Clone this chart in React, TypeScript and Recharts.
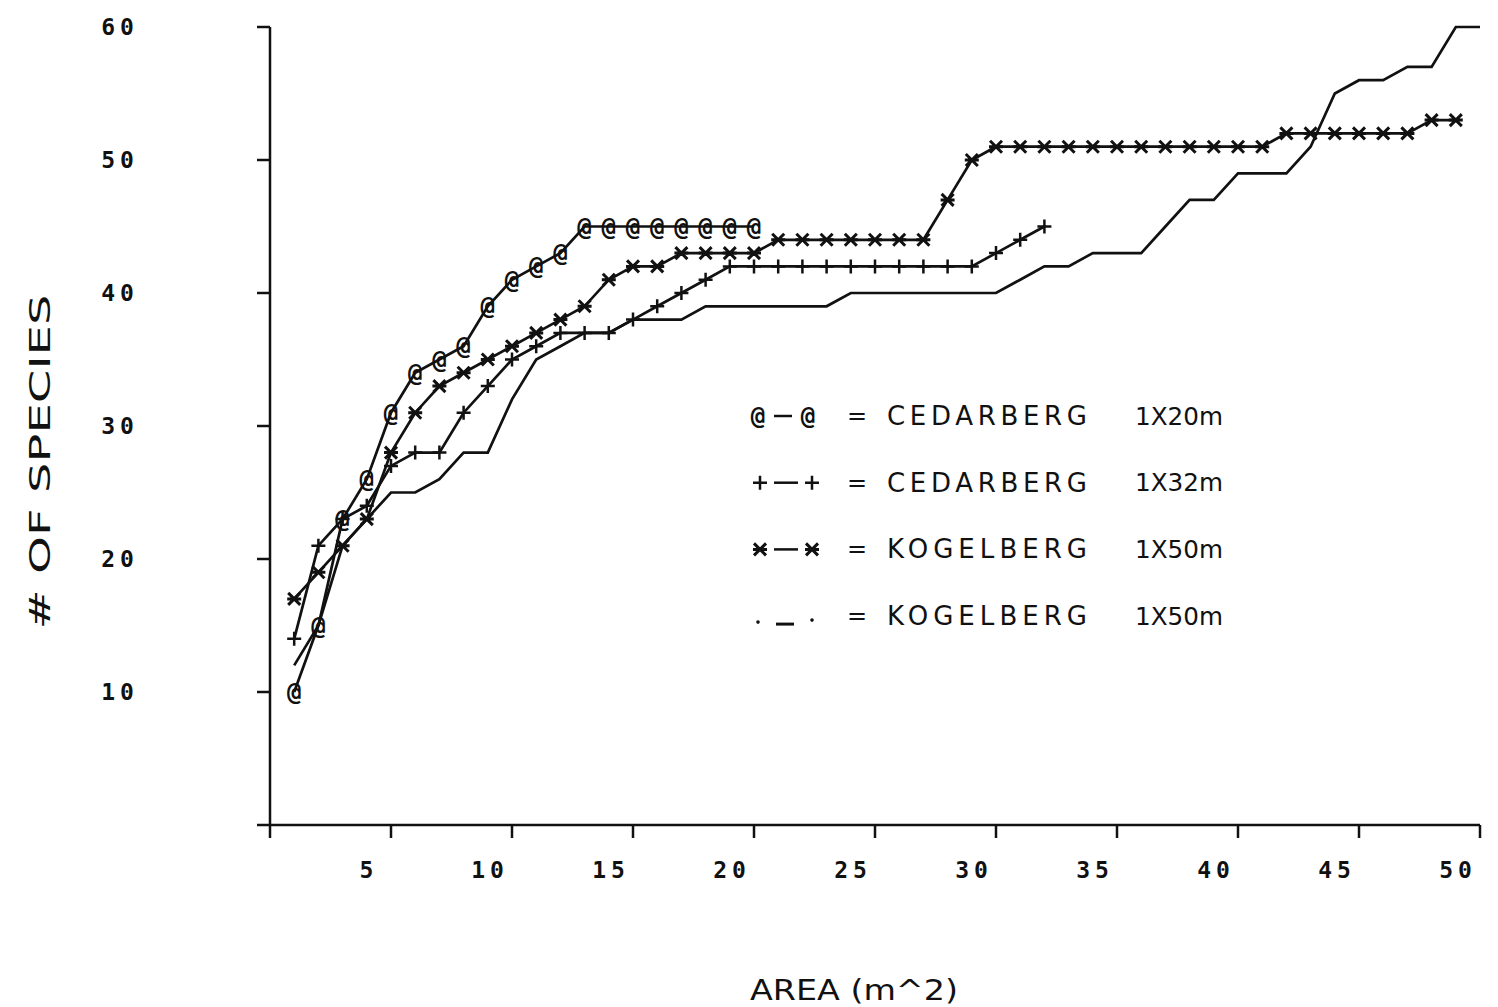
import React from 'react';
import { LineChart, Line, XAxis, YAxis } from 'recharts';

// plot area (m^2) at which the running species total was recorded
const areas = [
  1, 2, 3, 4, 5, 6, 7, 8, 9, 10, 11, 12, 13, 14, 15, 16, 17, 18, 19, 20, 21, 22, 23, 24, 25,
  26, 27, 28, 29, 30, 31, 32, 33, 34, 35, 36, 37, 38, 39, 40, 41, 42, 43, 44, 45, 46, 47, 48, 49, 50,
];

const cedarberg20 = [10, 15, 23, 26, 31, 34, 35, 36, 39, 41, 42, 43, 45, 45, 45, 45, 45, 45, 45, 45];

const cedarberg32 = [
  14, 21, 23, 24, 27, 28, 28, 31, 33, 35, 36, 37, 37, 37, 38, 39, 40, 41, 42, 42,
  42, 42, 42, 42, 42, 42, 42, 42, 42, 43, 44, 45,
];

const kogelbergX = [
  17, 19, 21, 23, 28, 31, 33, 34, 35, 36, 37, 38, 39, 41, 42, 42, 43, 43, 43, 43,
  44, 44, 44, 44, 44, 44, 44, 47, 50, 51, 51, 51, 51, 51, 51, 51, 51, 51, 51, 51,
  51, 52, 52, 52, 52, 52, 52, 53, 53,
];

const kogelbergPlain = [
  12, 15, 21, 23, 25, 25, 26, 28, 28, 32, 35, 36, 37, 37, 38, 38, 38, 39, 39, 39,
  39, 39, 39, 40, 40, 40, 40, 40, 40, 40, 41, 42, 42, 43, 43, 43, 45, 47, 47, 49,
  49, 49, 51, 55, 56, 56, 57, 57, 60, 60,
];

const xTicks = [0, 5, 10, 15, 20, 25, 30, 35, 40, 45, 50];
const yTicks = [0, 10, 20, 30, 40, 50, 60];

const legendSymbols = ['@-@', '+-+', '*-*', '._.'];
const legendNames = ['CEDARBERG', 'CEDARBERG', 'KOGELBERG', 'KOGELBERG'];
const legendSizes = ['1X20m', '1X32m', '1X50m', '1X50m'];

const toPoints = (vals: number[]) => vals.map((v, i) => ({ area: areas[i], species: v }));

const INK = '#111';
const MONO = '"DejaVu Sans Mono", monospace';
const SANS = '"DejaVu Sans", sans-serif';

const AtMark = ({ cx, cy }: { cx: number; cy: number }) => (
  <text x={cx} y={cy} fontSize={24} fontFamily={MONO} fontWeight="bold" fill={INK}
    textAnchor="middle" dominantBaseline="central">@</text>
);

const PlusMark = ({ cx, cy }: { cx: number; cy: number }) => (
  <path d={`M${cx - 7},${cy}H${cx + 7}M${cx},${cy - 7}V${cy + 7}`} stroke={INK} strokeWidth={2.5} fill="none" />
);

const StarMark = ({ cx, cy }: { cx: number; cy: number }) => (
  <path
    d={`M${cx - 6},${cy - 6}L${cx + 6},${cy + 6}M${cx - 6},${cy + 6}L${cx + 6},${cy - 6}M${cx - 7},${cy}H${cx + 7}`}
    stroke={INK} strokeWidth={3} fill="none" />
);

const XTick = (props: any) => {
  const { x, y, payload } = props;
  if (payload.value === 0) return null;
  return (
    <text x={x - 22} y={y + 30} fontSize={23} fontFamily={MONO} fontWeight="bold" fill={INK} letterSpacing={5}
      textAnchor="middle" dominantBaseline="central">{payload.value}</text>
  );
};

const YTick = (props: any) => {
  const { y, payload } = props;
  if (payload.value === 0) return null;
  return (
    <text x={120} y={y} fontSize={23} fontFamily={MONO} fontWeight="bold" fill={INK} letterSpacing={5}
      textAnchor="middle" dominantBaseline="central">{payload.value}</text>
  );
};

const LegendSymbol = ({ kind, x, y }: { kind: string; x: number; y: number }) => {
  if (kind === '@-@') {
    return (
      <g>
        <AtMark cx={x + 6} cy={y} />
        <line x1={x + 22} y1={y} x2={x + 40} y2={y} stroke={INK} strokeWidth={2.5} />
        <AtMark cx={x + 56} cy={y} />
      </g>
    );
  }
  if (kind === '+-+') {
    return (
      <g>
        <PlusMark cx={x + 8} cy={y} />
        <line x1={x + 22} y1={y} x2={x + 46} y2={y} stroke={INK} strokeWidth={2.5} />
        <PlusMark cx={x + 60} cy={y} />
      </g>
    );
  }
  if (kind === '*-*') {
    return (
      <g>
        <StarMark cx={x + 8} cy={y} />
        <line x1={x + 22} y1={y} x2={x + 46} y2={y} stroke={INK} strokeWidth={2.5} />
        <StarMark cx={x + 60} cy={y} />
      </g>
    );
  }
  return (
    <g>
      <circle cx={x + 6} cy={y + 6} r={1.8} fill={INK} />
      <line x1={x + 24} y1={y + 8} x2={x + 42} y2={y + 8} stroke={INK} strokeWidth={3} />
      <circle cx={x + 60} cy={y + 4} r={1.8} fill={INK} />
    </g>
  );
};

export default function App() {
  return (
    <div style={{ position: 'absolute', left: 0, top: 0, width: 1498, height: 1007, background: '#fff' }}>
      <LineChart width={1498} height={1007} margin={{ top: 27, right: 18, bottom: 152, left: 0 }}>
        <XAxis dataKey="area" type="number" domain={[0, 50]} ticks={xTicks} allowDuplicatedCategory={false}
          axisLine={{ stroke: INK, strokeWidth: 2.5 }} tickLine={{ stroke: INK, strokeWidth: 2.5 }}
          tickSize={13} tick={<XTick />} interval={0} />
        <YAxis dataKey="species" type="number" domain={[0, 60]} ticks={yTicks} width={270}
          axisLine={{ stroke: INK, strokeWidth: 2.5 }} tickLine={{ stroke: INK, strokeWidth: 2.5 }}
          tickSize={13} tick={<YTick />} interval={0} />
        <Line data={toPoints(kogelbergPlain)} dataKey="species" type="linear" stroke={INK} strokeWidth={2.7}
          dot={false} isAnimationActive={false} />
        <Line data={toPoints(cedarberg32)} dataKey="species" type="linear" stroke={INK} strokeWidth={2.7}
          dot={(p: any) => <PlusMark key={`p${p.index}`} cx={p.cx} cy={p.cy} />} isAnimationActive={false} />
        <Line data={toPoints(kogelbergX)} dataKey="species" type="linear" stroke={INK} strokeWidth={2.7}
          dot={(p: any) => <StarMark key={`s${p.index}`} cx={p.cx} cy={p.cy} />} isAnimationActive={false} />
        <Line data={toPoints(cedarberg20)} dataKey="species" type="linear" stroke={INK} strokeWidth={2.7}
          dot={(p: any) => <AtMark key={`a${p.index}`} cx={p.cx} cy={p.cy} />} isAnimationActive={false} />
      </LineChart>
      <svg width={1498} height={1007} style={{ position: 'absolute', left: 0, top: 0, pointerEvents: 'none' }}>
        {legendSymbols.map((s, i) => {
          const y = 416 + i * 66.7;
          return (
            <g key={s}>
              <LegendSymbol kind={s} x={752} y={y} />
              <text x={857} y={y} fontSize={24} fontFamily={SANS} fill={INK} textAnchor="middle"
                dominantBaseline="central">=</text>
              <text x={887} y={y} fontSize={26} fontFamily={SANS} fill={INK} dominantBaseline="central"
                textLength={200} lengthAdjust="spacing">{legendNames[i]}</text>
              <text x={1135} y={y} fontSize={25} fontFamily={SANS} fill={INK} dominantBaseline="central"
                textLength={88} lengthAdjust="spacingAndGlyphs">{legendSizes[i]}</text>
            </g>
          );
        })}
        <text x={854} y={990} fontSize={29} fontFamily={SANS} fill={INK} textAnchor="middle"
          dominantBaseline="central" textLength={208} lengthAdjust="spacingAndGlyphs">AREA (m^2)</text>
        <text transform="translate(40,462) rotate(-90)" fontSize={29} fontFamily={SANS} fill={INK}
          textAnchor="middle" dominantBaseline="central" textLength={335}
          lengthAdjust="spacingAndGlyphs"># OF SPECIES</text>
      </svg>
    </div>
  );
}
